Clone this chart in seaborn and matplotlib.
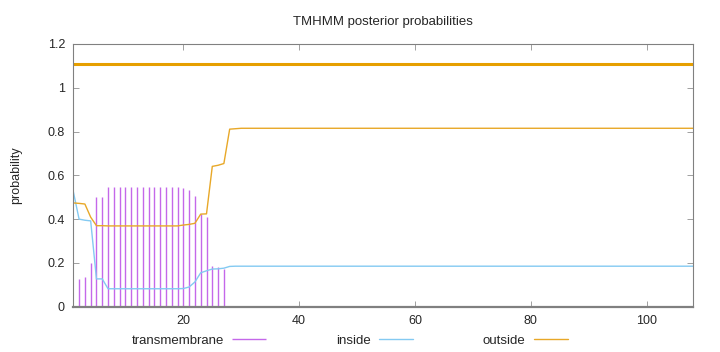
import numpy as np
import pandas as pd
import seaborn as sns
import matplotlib.pyplot as plt
from matplotlib.ticker import FuncFormatter

# TMHMM posterior probabilities per residue
residue = list(range(1, 109))
transmembrane = [0.0, 0.128, 0.136, 0.199, 0.503, 0.503, 0.549, 0.549, 0.549, 0.549,
                 0.549, 0.549, 0.549, 0.549, 0.549, 0.549, 0.549, 0.549, 0.549, 0.544,
                 0.534, 0.506, 0.422, 0.412, 0.187, 0.181, 0.170, 0.005, 0.002] + [0.0] * 79
inside = [0.526, 0.400, 0.395, 0.392, 0.127, 0.127, 0.082, 0.082, 0.082, 0.082,
          0.082, 0.082, 0.082, 0.082, 0.082, 0.082, 0.082, 0.082, 0.082, 0.083,
          0.090, 0.113, 0.155, 0.164, 0.172, 0.173, 0.176, 0.184, 0.185] + [0.185] * 79
outside = [0.474, 0.472, 0.469, 0.409, 0.370, 0.370, 0.369, 0.369, 0.369, 0.369,
           0.369, 0.369, 0.369, 0.369, 0.369, 0.369, 0.369, 0.369, 0.369, 0.373,
           0.376, 0.381, 0.423, 0.424, 0.641, 0.646, 0.654, 0.811, 0.813] + [0.815] * 79

# predicted topology: whole sequence outside
region_start = [1]
region_end = [108]
region_level = 1.11

c_tm = '#c468ea'
c_in = '#84caf2'
c_out = '#e8a828'

sns.set_style('ticks')
plt.rcParams['font.family'] = ['Liberation Sans', 'DejaVu Sans']
plt.rcParams['font.size'] = 9

df = pd.DataFrame({'residue': residue, 'transmembrane': transmembrane,
                   'inside': inside, 'outside': outside})

fig = plt.figure(figsize=(7.2, 3.52), dpi=100)
ax = fig.add_axes([0.1018, 0.1287, 0.8607, 0.7463])

ax.vlines(df['residue'], 0, df['transmembrane'], color=c_tm, lw=1.0, label='transmembrane')
sns.lineplot(data=df, x='residue', y='inside', ax=ax, color=c_in, lw=1.0, label='inside')
sns.lineplot(data=df, x='residue', y='outside', ax=ax, color=c_out, lw=1.0, label='outside')
sns.lineplot(x=region_start + region_end, y=[region_level] * 2, ax=ax,
             color='#e69f00', lw=2.2, legend=False)

ax.set_xlim(1, 108)
ax.set_ylim(0, 1.2)
ax.set_xticks([20, 40, 60, 80, 100])
ax.set_yticks([0, 0.2, 0.4, 0.6, 0.8, 1.0, 1.2])
ax.yaxis.set_major_formatter(FuncFormatter(lambda v, p: '%g' % v))
ax.tick_params(direction='in', length=4, width=0.6, color='#909090',
               top=True, right=True, labelsize=9, pad=6)
for s in ax.spines.values():
    s.set_color('#808080')
    s.set_linewidth(0.8)
ax.spines['bottom'].set_linewidth(1.6)

ax.set_xlabel('')
ax.set_ylabel('probability', fontsize=9, labelpad=18)
ax.set_title('TMHMM posterior probabilities', fontsize=9.5, pad=14)

ax.legend(loc='upper center', bbox_to_anchor=(0.446, -0.085), ncol=3, frameon=False,
          markerfirst=False, handlelength=2.6, handletextpad=0.6, columnspacing=5.3,
          fontsize=9.5, borderaxespad=0)

fig.savefig('out.png', dpi=100)
